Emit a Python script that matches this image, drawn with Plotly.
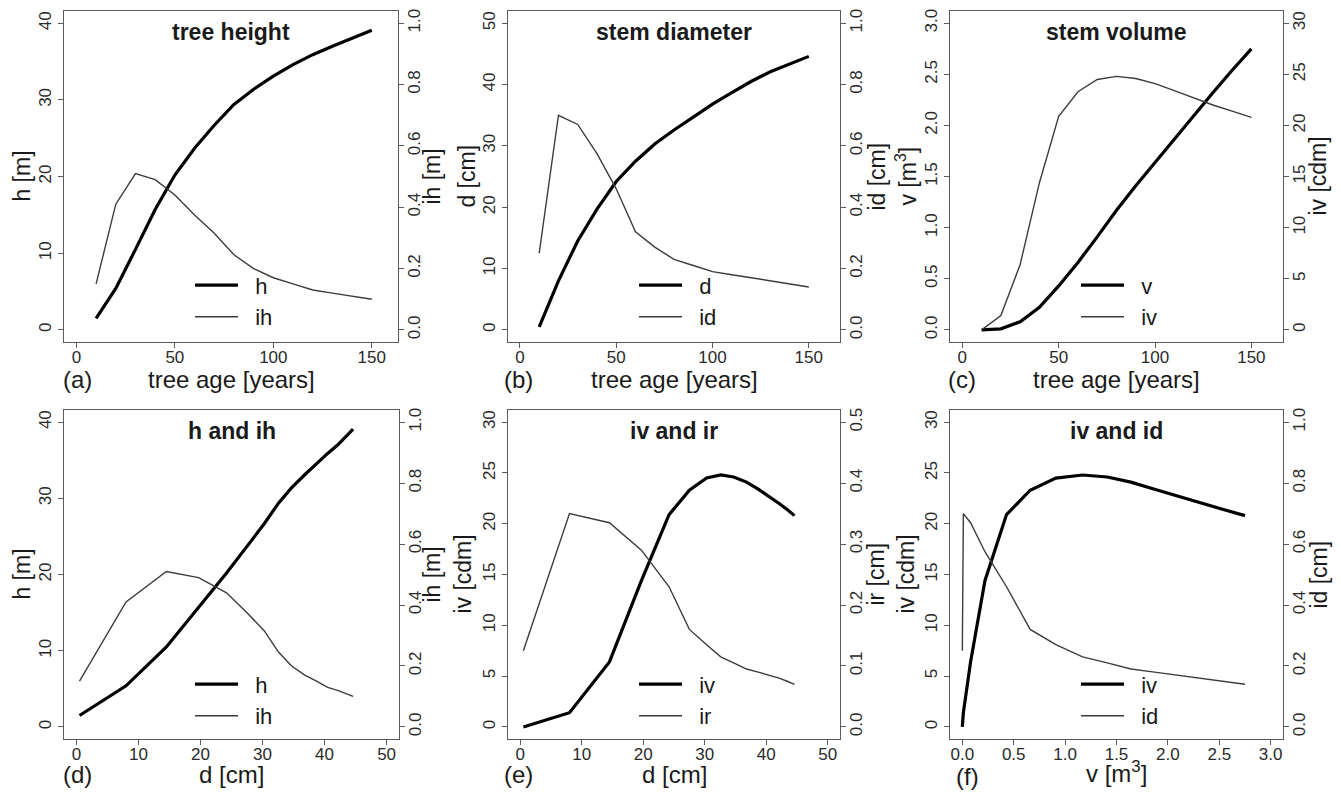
import plotly.graph_objects as go

# ---------------- data ----------------
age = [10, 20, 30, 40, 50, 60, 70, 80, 90, 100, 110, 120, 130, 140, 150]
h = [1.5, 5.4, 10.5, 15.7, 20.2, 23.7, 26.7, 29.4, 31.4, 33.1, 34.6, 35.9, 37.0, 38.1, 39.1]
ih = [0.15, 0.41, 0.51, 0.49, 0.44, 0.375, 0.315, 0.245, 0.20, 0.17, 0.15, 0.13, 0.12, 0.11, 0.10]
d = [0.5, 8.0, 14.5, 19.7, 24.2, 27.5, 30.3, 32.6, 34.7, 36.8, 38.7, 40.5, 42.1, 43.4, 44.6]
id_ = [0.25, 0.70, 0.67, 0.575, 0.46, 0.32, 0.27, 0.23, 0.21, 0.19, 0.18, 0.17, 0.16, 0.15, 0.14]
ir = [0.125, 0.35, 0.335, 0.29, 0.23, 0.16, 0.135, 0.115, 0.105, 0.095, 0.09, 0.085, 0.08, 0.075, 0.07]
v = [0.0, 0.01, 0.08, 0.22, 0.43, 0.66, 0.91, 1.17, 1.41, 1.64, 1.87, 2.10, 2.32, 2.54, 2.75]
iv = [0.0, 1.4, 6.4, 14.4, 20.9, 23.3, 24.5, 24.8, 24.6, 24.1, 23.4, 22.7, 22.0, 21.4, 20.8]

titles = ["tree height", "stem diameter", "stem volume", "h and ih", "iv and ir", "iv and id"]
panel_tags = ["(a)", "(b)", "(c)", "(d)", "(e)", "(f)"]
x_titles = ["tree age [years]", "tree age [years]", "tree age [years]", "d [cm]", "d [cm]", "v [m<sup>3</sup>]"]
left_titles = ["h [m]", "d [cm]", "v [m<sup>3</sup>]", "h [m]", "iv [cdm]", "iv [cdm]"]
right_titles = ["ih [m]", "id [cm]", "iv [cdm]", "ih [m]", "ir [cm]", "id [cm]"]
left_names = ["h", "d", "v", "h", "iv", "iv"]
right_names = ["ih", "id", "iv", "ih", "ir", "id"]

# series per panel: (x, left-axis series, right-axis series)
series = [
    (age, h, ih),
    (age, d, id_),
    (age, v, iv),
    (d, h, ih),
    (d, iv, ir),
    (v, iv, id_),
]

# ---------------- layout / styling ----------------
OFF = 8                      # the page body has an 8px margin
W, H = 1341 - OFF, 793 - OFF
FONT = "Liberation Sans, Arial, Helvetica, sans-serif"
TXT = "#1a1a1a"
AXC = "#5a5a5a"

# plot boxes in window pixels: left, right, top, bottom
boxes = [
    (64, 398, 9, 341), (508, 840, 9, 341), (950, 1283, 9, 341),
    (64, 399, 409, 739), (508, 840, 409, 739), (950, 1283, 409, 739),
]
xr = [[-6.3, 163.3], [-6.2, 166.2], [-6.4, 166.4], [-2, 52], [-2, 52], [-0.12, 3.12]]
xdt = [50, 50, 50, 10, 10, 0.5]
xfmt = ["", "", "", "", "", ".1f"]
yl_r = [[-1.6, 41.6], [-2, 52], [-0.12, 3.12], [-1.6, 41.6], [-1.2, 31.2], [-1.2, 31.2]]
yl_dt = [10, 10, 0.5, 10, 5, 5]
yl_fmt = ["", "", ".1f", "", "", ""]
yr_r = [[-0.04, 1.04], [-0.04, 1.04], [-1.2, 31.2], [-0.04, 1.04], [-0.02, 0.52], [-0.04, 1.04]]
yr_dt = [0.2, 0.2, 5, 0.2, 0.1, 0.2]
yr_fmt = [".1f", ".1f", "", ".1f", ".1f", ".1f"]
left_title_x = [22, 467, 906, 22, 463, 906]
right_title_x = [432, 877, 1318, 432, 876, 1319]
tag_x = [77, 518, 962, 77, 518, 967]
xtitle_dy = [37, 37, 37, 35, 35, 33]
tag_dy = [37, 37, 37, 35, 35, 37]


def px(x):
    return (x - OFF) / W


def py(y):
    return 1 - (y - OFF) / H


fig = go.Figure()
layout = dict(
    width=W, height=H, margin=dict(l=0, r=0, t=0, b=0),
    paper_bgcolor="white", plot_bgcolor="white",
    font=dict(family=FONT, color=TXT),
    showlegend=True,
)
annotations = []
NBSP = "\u00a0\u00a0"

for i in range(6):
    xs, ls, rs = series[i]
    l, r, t, b = boxes[i]
    xa = f"x{i + 1}"
    ya1 = f"y{2 * i + 1}"
    ya2 = f"y{2 * i + 2}"
    leg = "legend" if i == 0 else f"legend{i + 1}"

    fig.add_trace(go.Scatter(x=xs, y=ls, mode="lines", name=NBSP + left_names[i],
                             line=dict(color="#000000", width=3.2),
                             xaxis=xa, yaxis=ya1, legend=leg))
    fig.add_trace(go.Scatter(x=xs, y=rs, mode="lines", name=NBSP + right_names[i],
                             line=dict(color="#3c3c3c", width=1.4),
                             xaxis=xa, yaxis=ya2, legend=leg))

    common = dict(showline=True, linecolor=AXC, linewidth=1, ticks="outside",
                  ticklen=5, tickwidth=1, tickcolor=AXC, showgrid=False, zeroline=False,
                  tickfont=dict(size=17, color="#2a2a2a", family=FONT))
    layout[f"xaxis{i + 1}"] = dict(domain=[px(l), px(r)], anchor=ya1, range=xr[i],
                                   tick0=0, dtick=xdt[i], tickformat=xfmt[i], mirror=True,
                                   ticklabelstandoff=-6, **common)
    layout[f"yaxis{2 * i + 1}"] = dict(domain=[py(b), py(t)], anchor=xa, range=yl_r[i],
                                       tick0=0, dtick=yl_dt[i], tickformat=yl_fmt[i],
                                       tickangle=-90, mirror=True, **common)
    layout[f"yaxis{2 * i + 2}"] = dict(overlaying=ya1, side="right", anchor=xa,
                                       range=yr_r[i], tick0=0, dtick=yr_dt[i],
                                       tickformat=yr_fmt[i], tickangle=-90,
                                       ticklabelstandoff=-4, **common)

    layout[leg] = dict(x=px(l + 126), y=py(t + 277 - 23), xanchor="left", yanchor="top",
                       bgcolor="rgba(0,0,0,0)", borderwidth=0, itemwidth=43,
                       font=dict(size=22, color=TXT, family=FONT))

    cx = (l + r) / 2
    cy = (t + b) / 2
    annotations.append(dict(text=f"<b>{titles[i]}</b>", x=px(cx), y=py(t + 21),
                            xref="paper", yref="paper", showarrow=False,
                            xanchor="center", yanchor="middle",
                            font=dict(size=23, color=TXT, family=FONT)))
    annotations.append(dict(text=x_titles[i], x=px(cx), y=py(b + xtitle_dy[i]),
                            xref="paper", yref="paper", showarrow=False,
                            xanchor="center", yanchor="middle",
                            font=dict(size=24, color=TXT, family=FONT)))
    annotations.append(dict(text=panel_tags[i], x=px(tag_x[i]), y=py(b + tag_dy[i]),
                            xref="paper", yref="paper", showarrow=False,
                            xanchor="center", yanchor="middle",
                            font=dict(size=24, color=TXT, family=FONT)))
    annotations.append(dict(text=left_titles[i], x=px(left_title_x[i]), y=py(cy),
                            xref="paper", yref="paper", showarrow=False, textangle=-90,
                            xanchor="center", yanchor="middle",
                            font=dict(size=23, color=TXT, family=FONT)))
    annotations.append(dict(text=right_titles[i], x=px(right_title_x[i]), y=py(cy),
                            xref="paper", yref="paper", showarrow=False, textangle=-90,
                            xanchor="center", yanchor="middle",
                            font=dict(size=23, color=TXT, family=FONT)))

layout["annotations"] = annotations
fig.update_layout(**layout)
fig.write_html("out.html")
